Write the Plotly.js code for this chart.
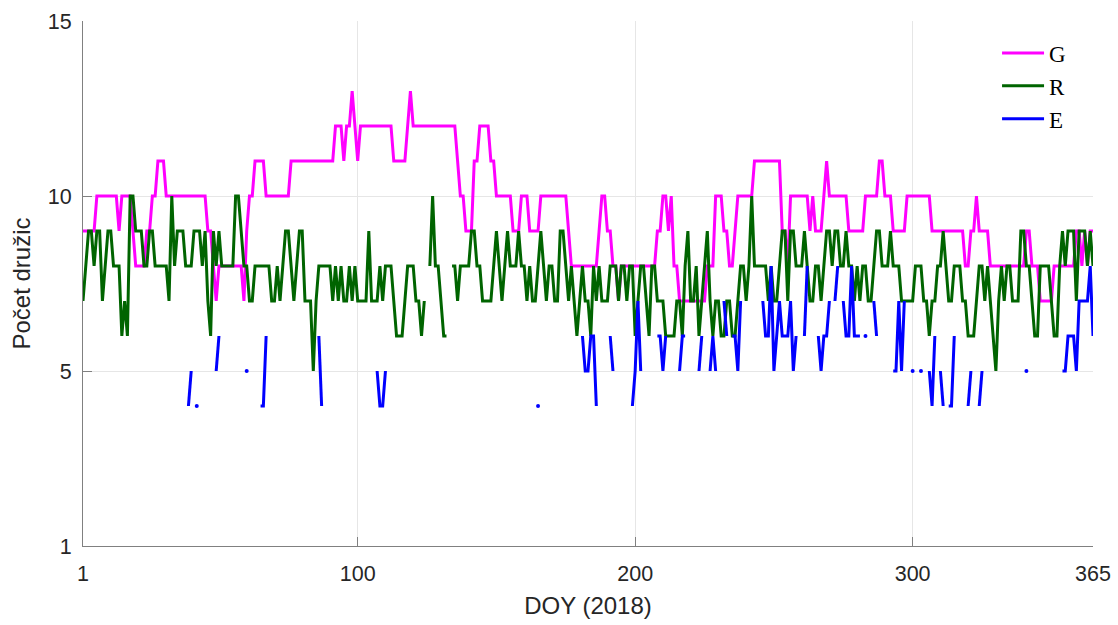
<!DOCTYPE html>
<html>
<head>
<meta charset="utf-8">
<script src="https://cdn.plot.ly/plotly-3.0.1.min.js"></script>
<style>html,body{margin:0;padding:0;background:#fff;}#chart{width:1118px;height:625px;}</style>
</head>
<body>
<div id="chart"></div>
<script>
// Day of year 1..365
const days = [];
for (let d = 1; d <= 365; d++) days.push(d);

// G (GPS) number of satellites
const G = [
9,9,9,9,9,10,10,10,10,10,
10,10,10,9,10,10,10,10,9,8,
8,8,8,9,9,10,10,11,11,11,
10,10,10,10,10,10,10,10,10,10,
10,10,10,10,10,9,9,8,7,8,
8,8,8,8,8,8,8,8,7,9,
10,10,11,11,11,11,10,10,10,10,
10,10,10,10,10,11,11,11,11,11,
11,11,11,11,11,11,11,11,11,11,
11,12,12,12,11,12,12,13,12,11,
12,12,12,12,12,12,12,12,12,12,
12,12,11,11,11,11,11,12,13,12,
12,12,12,12,12,12,12,12,12,12,
12,12,12,12,12,11,10,10,9,9,
9,11,11,12,12,12,12,11,11,10,
10,10,10,10,10,9,9,9,10,10,
10,9,9,9,9,10,10,10,10,10,
10,10,10,10,10,9,8,8,8,8,
8,8,8,8,8,8,9,10,10,9,
9,8,8,7,8,8,8,8,8,8,
8,8,8,8,8,8,8,9,9,10,
10,9,10,8,8,7,7,7,7,7,
7,7,7,7,7,8,8,8,10,10,
10,9,9,8,8,9,10,10,10,10,
10,10,11,11,11,11,11,11,11,11,
11,11,9,9,8,10,10,10,10,10,
10,10,9,10,9,9,9,10,11,10,
10,10,10,10,10,10,9,9,9,9,
9,9,10,10,10,10,10,11,11,10,
10,10,9,9,9,9,9,10,10,10,
10,10,10,10,10,10,9,9,9,9,
9,9,9,9,9,9,9,9,8,8,
9,9,10,9,9,9,9,8,8,8,
8,8,8,8,8,8,8,8,8,8,
9,9,8,8,8,7,7,7,7,7,
8,8,8,8,8,8,8,8,9,9,
8,9,8,9,9
];

// R (GLONASS) number of satellites
const R = [
7,8,9,9,8,9,9,7,8,9,
9,8,8,8,6,7,6,10,10,9,
9,9,8,8,9,9,8,8,8,8,
8,7,10,8,9,9,9,8,8,8,
9,9,9,8,9,7,6,9,8,9,
8,8,8,8,8,10,10,9,8,8,
7,7,8,8,8,8,8,8,7,7,
8,7,8,9,9,8,7,8,9,9,
7,7,7,5,7,8,8,8,8,8,
7,8,7,8,7,7,8,7,8,7,
7,7,7,9,7,7,7,8,7,8,
8,8,7,6,6,6,7,8,8,8,
7,7,6,7,null,8,10,8,8,7,
6,6,null,8,8,7,8,8,8,8,
9,9,8,8,7,7,7,7,8,9,
8,7,8,9,8,8,8,9,8,8,
7,8,7,7,8,9,8,7,8,8,
7,7,9,9,8,7,8,7,6,7,
8,7,7,6,8,7,8,7,7,7,
8,8,8,7,8,8,7,8,8,6,
7,8,8,7,6,8,8,7,7,7,
6,6,6,6,7,7,6,8,9,7,
7,8,6,7,8,9,7,6,7,7,
6,6,7,7,6,6,7,8,8,7,
8,10,8,8,8,8,8,7,8,7,
7,8,9,9,7,9,9,8,8,8,
9,8,7,7,8,8,7,8,9,9,
8,9,9,8,8,9,8,8,7,8,
7,8,8,7,7,8,9,9,8,8,
8,9,8,8,8,7,7,7,7,7,
8,8,8,7,7,6,7,7,8,8,
9,8,7,7,8,8,8,7,7,6,
6,6,7,8,8,7,8,7,6,5,
7,8,7,8,8,7,7,7,9,9,
8,8,7,6,6,8,8,8,8,7,
6,6,8,9,8,9,9,9,7,9,
9,9,8,9,8
];

// E (Galileo) number of satellites (null = not available)
const n = null;
const E = [
n,n,n,n,n,n,n,n,n,n,
n,n,n,n,n,n,n,n,n,n,
n,n,n,n,n,n,n,n,n,n,
n,n,n,n,n,n,n,n,4,5,
n,4,n,n,n,n,n,n,5,6,
n,n,n,n,n,n,n,n,n,5,
n,n,n,n,4,4,6,n,n,n,
n,n,n,n,n,n,n,n,n,n,
n,n,n,n,n,6,4,n,n,n,
n,n,n,n,n,n,n,n,n,n,
n,n,n,n,n,n,5,4,4,5,
n,n,n,n,n,n,n,n,n,n,
n,n,n,n,n,n,n,n,n,n,
n,n,n,n,n,n,n,n,n,n,
n,n,n,n,n,n,n,n,n,n,
n,n,n,n,n,n,n,n,n,n,
n,n,n,n,4,n,n,n,n,n,
n,n,n,n,n,n,n,n,n,n,
6,5,5,6,6,4,n,n,n,n,
6,5,n,n,n,n,n,n,4,5,
7,5,n,n,n,n,n,6,6,5,
6,n,n,n,n,5,6,6,n,n,
n,n,5,6,n,n,5,6,5,n,
n,7,6,n,6,6,5,7,n,n,
n,n,n,n,n,7,6,6,8,5,
6,7,6,6,6,7,5,6,n,n,
6,8,n,n,n,6,5,6,6,7,
n,7,8,n,7,6,6,8,6,6,
6,n,6,n,n,7,6,n,n,n,
n,n,5,5,7,5,7,n,n,5,
n,n,5,n,n,5,4,6,n,5,
4,n,4,4,6,n,n,n,n,4,
5,n,n,4,5,n,n,n,n,n,
n,n,n,n,n,n,n,n,n,n,
5,n,n,n,n,n,n,n,n,n,
n,n,n,5,5,6,6,6,5,7,
7,7,7,8,6
];

// Points of E that have no neighbour (drawn as dots)
const Ex = [], Ey = [];
for (let i = 0; i < E.length; i++) {
  if (E[i] !== null && (i === 0 || E[i-1] === null) && (i === E.length-1 || E[i+1] === null)) {
    Ex.push(days[i]); Ey.push(E[i]);
  }
}

const xTicks = [1, 100, 200, 300, 365];
const yTickVals = [0, 5, 10, 15];
const yTickText = ['1', '5', '10', '15'];

const traces = [
  {x: days, y: G, name: 'G', mode: 'lines', line: {color: '#ff00ff', width: 3}, connectgaps: false},
  {x: days, y: R, name: 'R', mode: 'lines', line: {color: '#006400', width: 3}, connectgaps: false},
  {x: days, y: E, name: 'E', mode: 'lines', line: {color: '#0000ff', width: 3}, connectgaps: false},
  {x: Ex, y: Ey, name: 'E', mode: 'markers', marker: {color: '#0000ff', size: 4}, showlegend: false}
];

const sans = 'Liberation Sans, Arial, sans-serif';
const axisFont = {family: sans, size: 21.5, color: '#262626'};

const layout = {
  width: 1118, height: 625,
  margin: {l: 83, r: 25, t: 21, b: 79, pad: 0},
  paper_bgcolor: '#ffffff', plot_bgcolor: '#ffffff',
  showlegend: true,
  xaxis: {
    range: [1, 365], tickvals: xTicks, ticktext: xTicks.map(String),
    ticks: 'inside', ticklen: 9, tickwidth: 1, tickcolor: '#808080',
    showline: true, linecolor: '#808080', linewidth: 1,
    showgrid: true, gridcolor: '#e6e6e6', zeroline: false,
    tickfont: axisFont, ticklabelstandoff: 8,
    title: {text: 'DOY (2018)', font: {family: sans, size: 24, color: '#262626'}, standoff: 12}
  },
  yaxis: {
    range: [0, 15], tickvals: yTickVals, ticktext: yTickText,
    ticks: 'inside', ticklen: 9, tickwidth: 1, tickcolor: '#808080',
    showline: true, linecolor: '#808080', linewidth: 1,
    showgrid: true, gridcolor: '#e6e6e6', zeroline: false,
    tickfont: axisFont, ticklabelstandoff: 6,
    title: {text: 'Počet družic', font: {family: sans, size: 24, color: '#262626'}, standoff: 10}
  },
  legend: {
    x: 0.905, y: 0.98, xanchor: 'left', yanchor: 'top',
    bgcolor: 'rgba(255,255,255,1)', borderwidth: 0,
    font: {family: 'Liberation Serif, DejaVu Serif, serif', size: 23, color: '#000'},
    itemwidth: 42, tracegroupgap: 0
  }
};

Plotly.newPlot('chart', traces, layout, {displayModeBar: false, staticPlot: true});
</script>
</body>
</html>
